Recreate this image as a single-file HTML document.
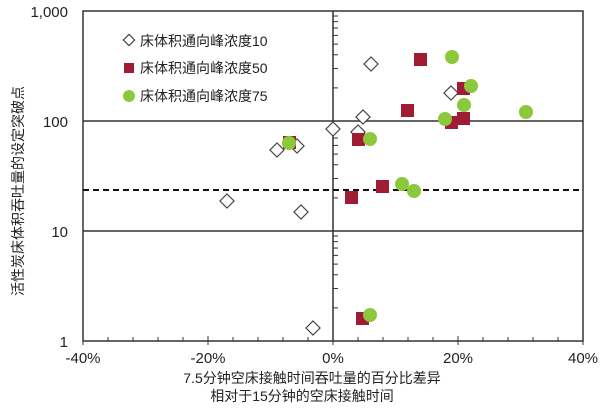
<!DOCTYPE html>
<html><head><meta charset="utf-8"><style>
body{margin:0;background:#fff;width:600px;height:407px;overflow:hidden}
svg text{font-family:"Liberation Sans","Noto Sans CJK SC",sans-serif;fill:#222}
</style></head><body>
<svg width="600" height="407" viewBox="0 0 600 407">
<rect x="83" y="11" width="500" height="330" fill="none" stroke="#333" stroke-width="1.5"/>
<line x1="83" y1="121" x2="583" y2="121" stroke="#333" stroke-width="1.5"/>
<line x1="83" y1="231" x2="583" y2="231" stroke="#333" stroke-width="1.5"/>
<line x1="333" y1="11" x2="333" y2="341" stroke="#333" stroke-width="1.5"/>
<line x1="83" y1="190" x2="583" y2="190" stroke="#111" stroke-width="2" stroke-dasharray="6,4"/>
<g id="ticks" stroke="#333" stroke-width="1"></g>
<text x="68" y="17" font-size="15" text-anchor="end">1,000</text>
<text x="68" y="127" font-size="15" text-anchor="end">100</text>
<text x="68" y="237" font-size="15" text-anchor="end">10</text>
<text x="68" y="347" font-size="15" text-anchor="end">1</text>
<text x="83" y="363" font-size="15" text-anchor="middle">-40%</text>
<text x="208" y="363" font-size="15" text-anchor="middle">-20%</text>
<text x="333" y="363" font-size="15" text-anchor="middle">0%</text>
<text x="458" y="363" font-size="15" text-anchor="middle">20%</text>
<text x="583" y="363" font-size="15" text-anchor="middle">40%</text>
<text x="312" y="383" font-size="14" text-anchor="middle">7.5分钟空床接触时间吞吐量的百分比差异</text>
<text x="302" y="401" font-size="14" text-anchor="middle">相对于15分钟的空床接触时间</text>
<text transform="translate(23,191) rotate(-90)" font-size="14" text-anchor="middle">活性炭床体积吞吐量的设定突破点</text>
<!-- legend -->
<rect x="125" y="36" width="8" height="8" transform="rotate(45 129 40)" fill="#fff" stroke="#444" stroke-width="1.2"/>
<text x="140" y="46" font-size="14">床体积通向峰浓度10</text>
<rect x="124" y="63" width="10" height="10" fill="#a01c34"/>
<text x="140" y="73" font-size="14">床体积通向峰浓度50</text>
<circle cx="129" cy="96" r="6" fill="#8cc83c"/>
<text x="140" y="101" font-size="14">床体积通向峰浓度75</text>
<g fill="#fff" stroke="#444" stroke-width="1.2">
<rect x="-5" y="-5" width="10" height="10" transform="translate(371,64) rotate(45)"/>
<rect x="-5" y="-5" width="10" height="10" transform="translate(363,117) rotate(45)"/>
<rect x="-5" y="-5" width="10" height="10" transform="translate(333,129) rotate(45)"/>
<rect x="-5" y="-5" width="10" height="10" transform="translate(358,132) rotate(45)"/>
<rect x="-5" y="-5" width="10" height="10" transform="translate(277,150) rotate(45)"/>
<rect x="-5" y="-5" width="10" height="10" transform="translate(297,146) rotate(45)"/>
<rect x="-5" y="-5" width="10" height="10" transform="translate(227,201) rotate(45)"/>
<rect x="-5" y="-5" width="10" height="10" transform="translate(301,212) rotate(45)"/>
<rect x="-5" y="-5" width="10" height="10" transform="translate(313,328) rotate(45)"/>
<rect x="-5" y="-5" width="10" height="10" transform="translate(451,93) rotate(45)"/>
</g>
<g fill="#a01c34">
<rect x="283" y="136" width="13" height="13"/>
<rect x="414" y="53" width="13" height="13"/>
<rect x="401" y="104" width="13" height="13"/>
<rect x="457" y="82" width="13" height="13"/>
<rect x="445" y="116" width="13" height="13"/>
<rect x="457" y="112" width="13" height="13"/>
<rect x="352" y="133" width="13" height="13"/>
<rect x="376" y="180" width="13" height="13"/>
<rect x="345" y="191" width="13" height="13"/>
<rect x="356" y="312" width="13" height="13"/>
</g>
<g fill="#8cc83c">
<circle cx="289" cy="143" r="7"/>
<circle cx="452" cy="57" r="7"/>
<circle cx="471" cy="86" r="7"/>
<circle cx="464" cy="105" r="7"/>
<circle cx="445" cy="119" r="7"/>
<circle cx="526" cy="112" r="7"/>
<circle cx="370" cy="139" r="7"/>
<circle cx="402" cy="184" r="7"/>
<circle cx="414" cy="191" r="7"/>
<circle cx="370" cy="315" r="7"/>
</g>
</svg>
<script>
var g=document.getElementById('ticks'),s='';
for(var d=0;d<3;d++){for(var k=2;k<=9;k++){var y=341-110*d-110*Math.log10(k);s+='<line x1="333" x2="338" y1="'+y+'" y2="'+y+'"/>';}}
for(var i=0;i<=20;i++){var x=83+i*25;s+='<line x1="'+x+'" x2="'+x+'" y1="'+(i%5==0?345:341)+'" y2="'+(i%5==0?336:337)+'"/>';}
g.innerHTML=s;
</script>
</body></html>
